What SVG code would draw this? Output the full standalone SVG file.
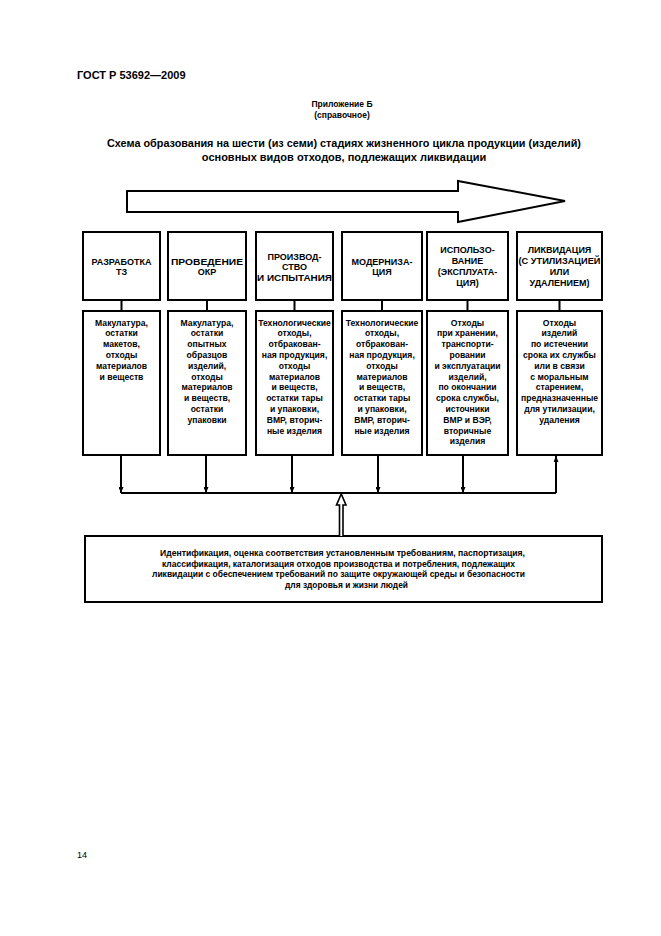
<svg xmlns="http://www.w3.org/2000/svg" width="661" height="936" viewBox="0 0 661 936">
<style>
  text { font-family: "Liberation Sans", Arial, sans-serif; fill: #000; }
  .hdr { font-size: 11px; font-weight: bold; }
  .app { font-size: 8.5px; font-weight: bold; text-anchor: middle; }
  .ttl { font-size: 11px; font-weight: bold; text-anchor: middle; }
  .box { fill: #fff; stroke: #000; stroke-width: 2; }
  .cap { font-size: 9px; font-weight: bold; text-anchor: middle; }
  .lst { font-size: 8.6px; font-weight: bold; text-anchor: middle; }
  .btm { font-size: 8.4px; font-weight: bold; text-anchor: middle; }
  .ln { fill: none; stroke: #000; stroke-width: 2; }
  .pg { font-size: 9px; }
</style>
<defs>
  <marker id="ah" markerUnits="userSpaceOnUse" viewBox="0 0 6 5" refX="6" refY="2.5" markerWidth="6" markerHeight="5" orient="auto">
    <path d="M0,0 L6,2.5 L0,5 z" fill="#000"/>
  </marker>
</defs>

<text class="hdr" x="77" y="79">ГОСТ Р 53692—2009</text>
<text class="app" x="342" y="107">Приложение Б</text>
<text class="app" x="342" y="118">(справочное)</text>
<text class="ttl" x="344" y="147" textLength="474" lengthAdjust="spacingAndGlyphs">Схема образования на шести (из семи) стадиях жизненного цикла продукции (изделий)</text>
<text class="ttl" x="344" y="161">основных видов отходов, подлежащих ликвидации</text>

<g id="lifecycle-arrow">
  <polygon points="127,191 458,191 458,181 565,201 458,222 458,212 127,212" fill="#fff" stroke="#000" stroke-width="2"/>
</g>

<g id="stage1">
  <rect class="box" x="83" y="232" width="77" height="68"/>
  <text class="cap" x="121.5" y="264.5">РАЗРАБОТКА</text>
  <text class="cap" x="121.5" y="274.5">ТЗ</text>
</g>
<g id="stage2">
  <rect class="box" x="168" y="232" width="78" height="68"/>
  <text class="cap" x="207" y="264.5" textLength="72" lengthAdjust="spacingAndGlyphs">ПРОВЕДЕНИЕ</text>
  <text class="cap" x="207" y="274.5">ОКР</text>
</g>
<g id="stage3">
  <rect class="box" x="256" y="232" width="77" height="68"/>
  <text class="cap" x="294.5" y="260">ПРОИЗВОД-</text>
  <text class="cap" x="294.5" y="270">СТВО</text>
  <text class="cap" x="294.5" y="280.5" textLength="75" lengthAdjust="spacingAndGlyphs">И ИСПЫТАНИЯ</text>
</g>
<g id="stage4">
  <rect class="box" x="342" y="232" width="80" height="68"/>
  <text class="cap" x="382" y="264.5">МОДЕРНИЗА-</text>
  <text class="cap" x="382" y="274.5">ЦИЯ</text>
</g>
<g id="stage5">
  <rect class="box" x="427" y="232" width="81" height="68"/>
  <text class="cap" x="467.5" y="252.5">ИСПОЛЬЗО-</text>
  <text class="cap" x="467.5" y="263.5">ВАНИЕ</text>
  <text class="cap" x="467.5" y="274.5">(ЭКСПЛУАТА-</text>
  <text class="cap" x="467.5" y="285.5">ЦИЯ)</text>
</g>
<g id="stage6">
  <rect class="box" x="517" y="232" width="85" height="68"/>
  <text class="cap" x="559.5" y="252.5">ЛИКВИДАЦИЯ</text>
  <text class="cap" x="559.5" y="263.5" textLength="82" lengthAdjust="spacingAndGlyphs">(С УТИЛИЗАЦИЕЙ</text>
  <text class="cap" x="559.5" y="274.5">ИЛИ</text>
  <text class="cap" x="559.5" y="285.5">УДАЛЕНИЕМ)</text>
</g>

<g id="waste1">
  <rect class="box" x="83" y="311" width="77" height="144"/>
  <text class="lst"><tspan x="121.5" y="325.5">Макулатура,</tspan><tspan x="121.5" dy="10.8">остатки</tspan><tspan x="121.5" dy="10.8">макетов,</tspan><tspan x="121.5" dy="10.8">отходы</tspan><tspan x="121.5" dy="10.8">материалов</tspan><tspan x="121.5" dy="10.8">и веществ</tspan></text>
</g>
<g id="waste2">
  <rect class="box" x="168" y="311" width="78" height="144"/>
  <text class="lst"><tspan x="207" y="325.5">Макулатура,</tspan><tspan x="207" dy="10.8">остатки</tspan><tspan x="207" dy="10.8">опытных</tspan><tspan x="207" dy="10.8">образцов</tspan><tspan x="207" dy="10.8">изделий,</tspan><tspan x="207" dy="10.8">отходы</tspan><tspan x="207" dy="10.8">материалов</tspan><tspan x="207" dy="10.8">и веществ,</tspan><tspan x="207" dy="10.8">остатки</tspan><tspan x="207" dy="10.8">упаковки</tspan></text>
</g>
<g id="waste3">
  <rect class="box" x="256" y="311" width="77" height="144"/>
  <text class="lst"><tspan x="294.5" y="325.5">Технологические</tspan><tspan x="294.5" dy="10.8">отходы,</tspan><tspan x="294.5" dy="10.8">отбракован-</tspan><tspan x="294.5" dy="10.8">ная продукция,</tspan><tspan x="294.5" dy="10.8">отходы</tspan><tspan x="294.5" dy="10.8">материалов</tspan><tspan x="294.5" dy="10.8">и веществ,</tspan><tspan x="294.5" dy="10.8">остатки тары</tspan><tspan x="294.5" dy="10.8">и упаковки,</tspan><tspan x="294.5" dy="10.8">ВМР, вторич-</tspan><tspan x="294.5" dy="10.8">ные изделия</tspan></text>
</g>
<g id="waste4">
  <rect class="box" x="342" y="311" width="80" height="144"/>
  <text class="lst"><tspan x="382" y="325.5">Технологические</tspan><tspan x="382" dy="10.8">отходы,</tspan><tspan x="382" dy="10.8">отбракован-</tspan><tspan x="382" dy="10.8">ная продукция,</tspan><tspan x="382" dy="10.8">отходы</tspan><tspan x="382" dy="10.8">материалов</tspan><tspan x="382" dy="10.8">и веществ,</tspan><tspan x="382" dy="10.8">остатки тары</tspan><tspan x="382" dy="10.8">и упаковки,</tspan><tspan x="382" dy="10.8">ВМР, вторич-</tspan><tspan x="382" dy="10.8">ные изделия</tspan></text>
</g>
<g id="waste5">
  <rect class="box" x="427" y="311" width="81" height="144"/>
  <text class="lst"><tspan x="467.5" y="325.5">Отходы</tspan><tspan x="467.5" dy="10.8">при хранении,</tspan><tspan x="467.5" dy="10.8">транспорти-</tspan><tspan x="467.5" dy="10.8">ровании</tspan><tspan x="467.5" dy="10.8">и эксплуатации</tspan><tspan x="467.5" dy="10.8">изделий,</tspan><tspan x="467.5" dy="10.8">по окончании</tspan><tspan x="467.5" dy="10.8">срока службы,</tspan><tspan x="467.5" dy="10.8">источники</tspan><tspan x="467.5" dy="10.8">ВМР и ВЭР,</tspan><tspan x="467.5" dy="10.8">вторичные</tspan><tspan x="467.5" dy="10.8">изделия</tspan></text>
</g>
<g id="waste6">
  <rect class="box" x="517" y="311" width="85" height="144"/>
  <text class="lst"><tspan x="559.5" y="325.5">Отходы</tspan><tspan x="559.5" dy="10.8">изделий</tspan><tspan x="559.5" dy="10.8">по истечении</tspan><tspan x="559.5" dy="10.8">срока их службы</tspan><tspan x="559.5" dy="10.8">или в связи</tspan><tspan x="559.5" dy="10.8">с моральным</tspan><tspan x="559.5" dy="10.8">старением,</tspan><tspan x="559.5" dy="10.8">предназначенные</tspan><tspan x="559.5" dy="10.8">для утилизации,</tspan><tspan x="559.5" dy="10.8">удаления</tspan></text>
</g>

<g id="requirements">
  <rect class="box" x="85" y="536" width="517" height="66"/>
  <text class="btm" x="342.5" y="556" textLength="365" lengthAdjust="spacingAndGlyphs">Идентификация, оценка соответствия установленным требованиям, паспортизация,</text>
  <text class="btm" x="338.5" y="566.7" textLength="353" lengthAdjust="spacingAndGlyphs">классификация, каталогизация отходов производства и потребления, подлежащих</text>
  <text class="btm" x="338.5" y="577.4" textLength="373" lengthAdjust="spacingAndGlyphs">ликвидации с обеспечением требований по защите окружающей среды и безопасности</text>
  <text class="btm" x="346.5" y="588.1">для здоровья и жизни людей</text>
</g>

<g id="connectors">
  <path class="ln" d="M121.5,300 V311 M207,300 V311 M294.5,300 V311 M382,300 V311 M467.5,300 V311 M559.5,300 V311"/>
  <path class="ln" d="M121,493 H556"/>
  <line class="ln" x1="121" y1="455" x2="121" y2="493" marker-end="url(#ah)"/>
  <line class="ln" x1="206" y1="455" x2="206" y2="493" marker-end="url(#ah)"/>
  <line class="ln" x1="292" y1="455" x2="292" y2="493" marker-end="url(#ah)"/>
  <line class="ln" x1="378" y1="455" x2="378" y2="493" marker-end="url(#ah)"/>
  <line class="ln" x1="463" y1="455" x2="463" y2="493" marker-end="url(#ah)"/>
  <line class="ln" x1="556" y1="493" x2="556" y2="456" marker-end="url(#ah)"/>
  <path d="M339.5,536 V505 H336.5 L341.25,494 L346,505 H343 V536" fill="#fff" stroke="#000" stroke-width="1.6"/>
</g>

<text class="pg" x="77" y="858">14</text>
</svg>
